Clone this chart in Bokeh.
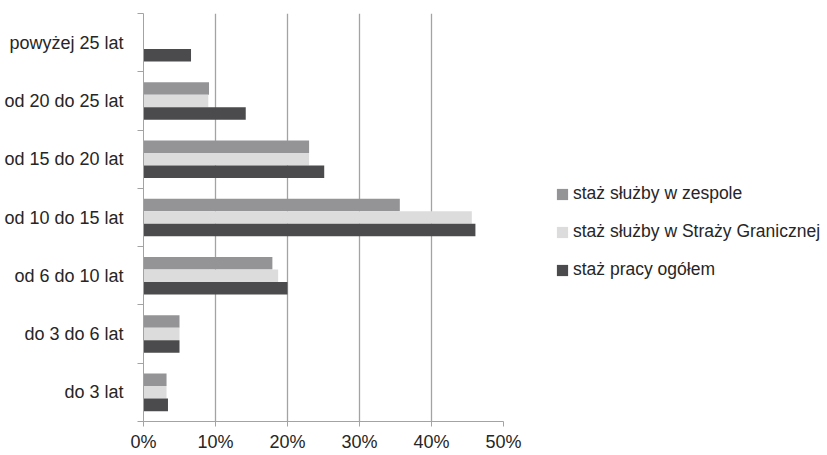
from bokeh.plotting import figure
from bokeh.layouts import row
from bokeh.models import Range1d, FixedTicker, Legend, LegendItem, ColumnDataSource
from bokeh.embed import file_html
from bokeh.resources import INLINE

# Length-of-service brackets, bottom to top
categories = ["do 3 lat", "do 3 do 6 lat", "od 6 do 10 lat", "od 10 do 15 lat",
              "od 15 do 20 lat", "od 20 do 25 lat", "powyżej 25 lat"]

# Share of respondents in each bracket (%)
staz_zespol = [3.2, 5.0, 17.9, 35.6, 23.0, 9.1, 0.0]
staz_straz = [3.2, 5.0, 18.7, 45.6, 23.0, 9.0, 0.0]
staz_ogolem = [3.4, 5.0, 20.0, 46.1, 25.1, 14.2, 6.6]

series_labels = ["staż służby w zespole", "staż służby w Straży Granicznej", "staż pracy ogółem"]
series_colors = ["#949497", "#dcdcdd", "#4b4b4d"]
x_ticks = [0, 10, 20, 30, 40, 50]

FONT = "Liberation Sans"
TEXT = "#262626"
GRID = "#a3a3a3"

p = figure(width=530, height=455, output_backend="svg", toolbar_location=None,
           x_range=Range1d(0, 50), y_range=Range1d(0, len(categories)),
           min_border_left=143, min_border_right=27, min_border_top=13,
           min_border_bottom=34)
p.outline_line_color = None
p.background_fill_color = "white"
p.border_fill_color = "white"

bar_h = 0.215
offsets = [bar_h, 0.0, -bar_h]
for vals, color, off in zip([staz_zespol, staz_straz, staz_ogolem], series_colors, offsets):
    src = ColumnDataSource(dict(
        y=[i + 0.5 + off for i in range(len(categories))],
        right=vals,
    ))
    p.hbar(y="y", left=0, right="right", height=bar_h, source=src,
           fill_color=color, line_color=None)

# x axis / vertical grid
p.xaxis.ticker = FixedTicker(ticks=x_ticks)
p.xaxis.major_label_overrides = {t: f"{t}%" for t in x_ticks}
p.xaxis.axis_line_color = GRID
p.xaxis.major_tick_line_color = GRID
p.xaxis.major_tick_in = 0
p.xaxis.major_tick_out = 5
p.xaxis.minor_tick_line_color = None
p.xaxis.major_label_text_font = FONT
p.xaxis.major_label_text_font_size = "18px"
p.xaxis.major_label_text_color = TEXT
p.xaxis.major_label_standoff = 5
p.xgrid.ticker = FixedTicker(ticks=x_ticks)
p.xgrid.grid_line_color = GRID
p.xgrid.grid_line_width = 1.3
p.ygrid.grid_line_color = None

# y axis: labels at bracket centres, ticks on bracket boundaries
centres = [i + 0.5 for i in range(len(categories))]
p.yaxis.ticker = FixedTicker(ticks=centres, minor_ticks=list(range(len(categories) + 1)))
p.yaxis.major_label_overrides = {c: name for c, name in zip(centres, categories)}
p.yaxis.axis_line_color = GRID
p.yaxis.major_tick_line_color = None
p.yaxis.major_tick_in = 0
p.yaxis.major_tick_out = 0
p.yaxis.minor_tick_line_color = GRID
p.yaxis.minor_tick_in = 0
p.yaxis.minor_tick_out = 6
p.yaxis.major_label_text_font = FONT
p.yaxis.major_label_text_font_size = "18px"
p.yaxis.major_label_text_color = TEXT
p.yaxis.major_label_standoff = 14

# Legend panel to the right of the chart; its swatch renderers sit outside the view
leg = figure(width=297, height=455, output_backend="svg", toolbar_location=None,
             x_range=Range1d(0, 1), y_range=Range1d(0, 1),
             min_border=0)
leg.axis.visible = False
leg.grid.visible = False
leg.outline_line_color = None
leg_renderers = [
    leg.hbar(y=[5], left=[5], right=[6], height=0.1, fill_color=c, line_color=None)
    for c in series_colors
]
legend = Legend(
    items=[LegendItem(label=lab, renderers=[r]) for lab, r in zip(series_labels, leg_renderers)],
    location=(25, 141),
    padding=0, margin=0, spacing=17,
    glyph_width=14, glyph_height=14, label_height=20, label_standoff=4,
    label_text_font=FONT, label_text_font_size="17.5px", label_text_color=TEXT,
    border_line_color=None, background_fill_alpha=0,
)
leg.add_layout(legend)

open("out.html", "w").write(file_html(row(p, leg), INLINE))
